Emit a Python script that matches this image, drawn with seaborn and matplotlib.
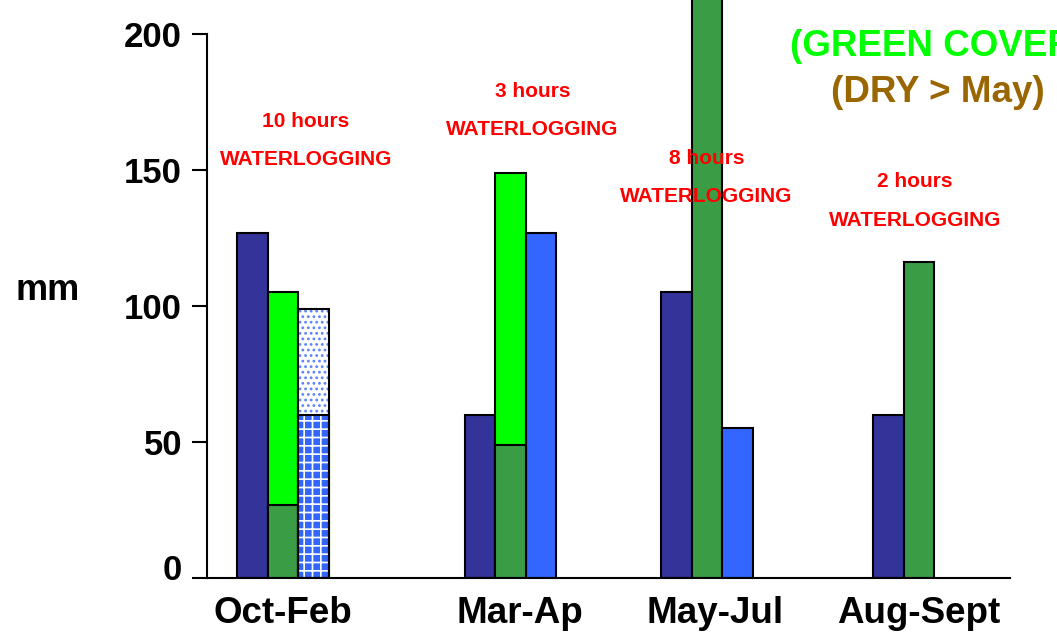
import numpy as np
import pandas as pd
import matplotlib
matplotlib.use('Agg')
import matplotlib.pyplot as plt
import matplotlib.transforms as mtransforms
from matplotlib.patches import Rectangle
import seaborn as sns

# values (mm)
categories = ['Oct-Feb', 'Mar-Ap', 'May-Jul', 'Aug-Sept']
navy_mm = [127, 60, 105, 60]
dark_green_mm = [27, 49, 230, 116]
light_green_top_mm = [105, 149, np.nan, np.nan]   # stacked on the dark green part
blue_mm = [np.nan, 127, 55, np.nan]
dotted_top_mm = [99, np.nan, np.nan, np.nan]      # stacked on the checked part
checked_mm = [60, np.nan, np.nan, np.nan]
hours = [10, 3, 8, 2]

# layout (x in bar widths, y in mm)
group_x = [2.5, 9.95, 16.4, 23.35]
tick_x = [2.5, 10.27, 16.65, 23.35]
note_x = [3.25, 10.67, 16.38, 23.21]
note_y = [168, 179, 154.4, 145.6]

face = {'navy': '#333399', 'lightgreen': '#00FF00', 'darkgreen': '#3A9D45',
        'blue': '#3366FF', 'dotted': 'white', 'checked': '#3366FF'}

sns.set_style('ticks')
plt.rcParams['font.family'] = ['Liberation Sans', 'DejaVu Sans']
plt.rcParams['font.weight'] = 'bold'
plt.rcParams['hatch.linewidth'] = 1.2
for key in ['text.color', 'axes.labelcolor', 'xtick.color', 'ytick.color', 'axes.edgecolor']:
    plt.rcParams[key] = 'black'

fig = plt.figure(figsize=(10.57, 6.36), dpi=100)
ax = fig.add_axes([207 / 1057, 58 / 636, 803 / 1057, 578 / 636])

# full-height bars first, lower stacked parts drawn on top of them
top_rows, low_rows = [], []
for i, gx in enumerate(group_x):
    top_rows.append((gx - 1, navy_mm[i], 'navy'))
    if not np.isnan(light_green_top_mm[i]):
        top_rows.append((gx, light_green_top_mm[i], 'lightgreen'))
        low_rows.append((gx, dark_green_mm[i], 'darkgreen'))
    else:
        top_rows.append((gx, dark_green_mm[i], 'darkgreen'))
    if not np.isnan(blue_mm[i]):
        top_rows.append((gx + 1, blue_mm[i], 'blue'))
    if not np.isnan(dotted_top_mm[i]):
        top_rows.append((gx + 1, dotted_top_mm[i], 'dotted'))
        low_rows.append((gx + 1, checked_mm[i], 'checked'))


def draw_layer(rows):
    df = pd.DataFrame(rows, columns=['x', 'mm', 'kind']).sort_values('x')
    n_before = len(ax.patches)
    sns.barplot(data=df, x='x', y='mm', native_scale=True, width=1.0,
                errorbar=None, color='gray', edgecolor='black',
                linewidth=1.5, ax=ax)
    for p, kind in zip(ax.patches[n_before:], df['kind']):
        p.set_facecolor(face[kind])
        if kind in ('dotted', 'checked'):
            p.set_edgecolor('#5A82FF' if kind == 'dotted' else 'white')
            p.set_hatch('...' if kind == 'dotted' else '++')
            p.set_linewidth(0)
            ax.add_patch(Rectangle((p.get_x(), p.get_y()), p.get_width(),
                                   p.get_height(), fill=False,
                                   edgecolor='black', linewidth=1.5, zorder=3))


draw_layer(top_rows)
draw_layer(low_rows)

ax.set_xlim(0, 26.33)
ax.set_ylim(0, 212.5)
ax.set_yticks([0, 50, 100, 150, 200])
ax.set_xticks(tick_x)
ax.set_xticklabels(categories, fontsize=26.5, fontweight='bold')
ax.tick_params(axis='x', length=0, pad=13)
ax.tick_params(axis='y', length=11, width=1.5, pad=7, labelsize=25, direction='out')
for lab in ax.get_yticklabels():
    lab.set_fontweight('bold')
# the "0" label sits a little above its tick in the original
zero_lab = ax.get_yticklabels()[0]
zero_lab.set_transform(zero_lab.get_transform() +
                       mtransforms.ScaledTranslation(0, 8 / 72, fig.dpi_scale_trans))
ax.set_xlabel('')
ax.set_ylabel('')
sns.despine(ax=ax)
ax.spines['left'].set_bounds(0, 200)
ax.spines['left'].set_linewidth(1.5)
ax.spines['bottom'].set_linewidth(1.5)

for x, y, h in zip(note_x, note_y, hours):
    ax.text(x, y, f'{h} hours', ha='center', va='center', color='red',
            fontsize=15, fontweight='bold')
    ax.text(x, y - 14, 'WATERLOGGING', ha='center', va='center', color='red',
            fontsize=15, fontweight='bold')

fig.text(48 / 1057, 1 - 290 / 636, 'mm', ha='center', va='center',
         fontsize=26, fontweight='bold')
fig.text(938 / 1057, 1 - 47 / 636, '(GREEN COVER)', ha='center', va='center',
         fontsize=26.5, fontweight='bold', color='#00FF00')
fig.text(938 / 1057, 1 - 93 / 636, '(DRY > May)', ha='center', va='center',
         fontsize=26.5, fontweight='bold', color='#996600')

fig.savefig('out.png', dpi=100)
